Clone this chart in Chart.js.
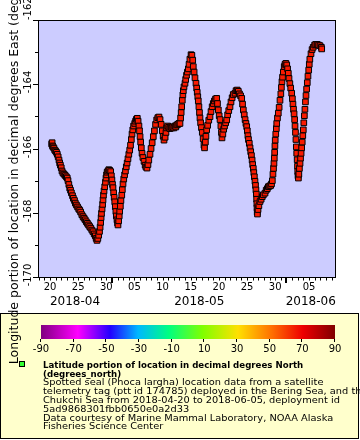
<!DOCTYPE html>
<html>
<head>
<meta charset="utf-8">
<script src="https://cdn.jsdelivr.net/npm/chart.js@4.4.1/dist/chart.umd.min.js"></script>
<style>
  html, body { margin: 0; padding: 0; background: #fff; }
  #wrap { width: 360px; height: 440px; }
</style>
</head>
<body>
<div id="wrap"><canvas id="chart" width="360" height="440"></canvas></div>
<script>
// time is in days counted from 2018-03-31 00:00, so 20 = 2018-04-20, 31 = 2018-05-01, 62 = 2018-06-01
const fixDay = [
  20.30, 20.38, 20.45, 20.55, 20.70, 20.85, 21.00, 21.15, 21.30, 21.45,
  21.60, 21.72, 21.85, 22.00, 22.13, 22.30, 22.50, 22.70, 22.90, 23.07,
  23.20, 23.35, 23.50, 23.65, 23.80, 24.00, 24.15, 24.35, 24.50, 24.70,
  24.90, 25.10, 25.28, 25.45, 25.65, 25.86, 26.05, 26.25, 26.45, 26.65,
  26.85, 27.05, 27.25, 27.45, 27.64, 27.85, 28.05, 28.20, 28.35,
  28.50, 28.65, 28.80, 28.90, 29.00, 29.08, 29.15, 29.25, 29.35, 29.42,
  29.50, 29.60, 29.72, 29.85, 29.95, 30.05, 30.15, 30.30, 30.45, 30.60,
  30.78, 30.90, 31.00, 31.10, 31.19, 31.30, 31.40, 31.50, 31.60, 31.70,
  31.78, 31.90, 32.00, 32.08, 32.20, 32.30, 32.38, 32.50, 32.60, 32.75,
  32.85, 32.97, 33.10, 33.25, 33.40, 33.55, 33.70, 33.85, 34.00, 34.16,
  34.30, 34.45, 34.57, 34.70, 34.85, 35.05, 35.20, 35.35, 35.51,
  35.65, 35.80, 35.90, 36.00, 36.10, 36.22, 36.35, 36.50, 36.70, 36.90,
  37.05, 37.23, 37.40, 37.55, 37.76, 37.95, 38.15, 38.35, 38.55, 38.75,
  38.95, 39.15, 39.36, 39.55, 39.75, 39.95, 40.10, 40.25, 40.45, 40.60,
  40.73, 40.90, 41.10, 41.30, 41.50, 41.62, 41.80, 42.00, 42.20, 42.35,
  42.51, 42.70, 42.90, 43.09, 43.20, 43.30, 43.39, 43.50, 43.60, 43.68,
  43.80, 43.98, 44.10, 44.25, 44.40, 44.57, 44.70, 44.85, 45.05, 45.20,
  45.35, 45.45, 45.60, 45.75, 45.93, 46.05, 46.15, 46.25, 46.34, 46.45,
  46.55, 46.64, 46.75, 46.90, 47.05, 47.20, 47.35, 47.45, 47.60, 47.70,
  47.83, 48.00, 48.20, 48.42, 48.60, 48.80, 49.00, 49.20, 49.40, 49.61,
  49.75, 49.90, 50.05, 50.20, 50.35, 50.45, 50.55, 50.70, 50.85, 51.00,
  51.20, 51.39, 51.55, 51.75, 51.97, 52.15, 52.35, 52.55, 52.86, 53.05,
  53.25, 53.45, 53.65, 53.85, 54.05,
  54.20, 54.34, 54.50, 54.65, 54.80, 54.94, 55.05, 55.15, 55.25, 55.40,
  55.53, 55.65, 55.78, 55.90, 56.00, 56.11, 56.20, 56.30, 56.41, 56.50,
  56.58, 56.65, 56.70, 56.74, 56.77, 56.80, 56.85, 56.95, 57.10, 57.30,
  57.50, 57.70, 57.90, 58.19, 58.40, 58.60, 58.78, 59.00, 59.20, 59.35,
  59.49, 59.60, 59.70, 59.78, 59.84, 59.90, 59.95, 60.00, 60.10, 60.20,
  60.27, 60.40, 60.55, 60.70, 60.85, 61.00, 61.10, 61.20, 61.30, 61.44,
  61.60, 61.74, 61.90,
  62.05, 62.20, 62.33, 62.45, 62.60, 62.75, 62.93, 63.05, 63.15, 63.25,
  63.35, 63.45, 63.52, 63.60, 63.68, 63.75, 63.82, 63.90, 63.96, 64.00,
  64.05, 64.12, 64.20, 64.30, 64.41, 64.50, 64.60, 64.70, 64.80, 64.90,
  64.99, 65.08, 65.18, 65.28, 65.37, 65.47, 65.58, 65.70, 65.82, 65.95,
  66.05, 66.15, 66.36, 66.55, 66.75, 67.00, 67.20, 67.45, 67.70, 67.96,
  68.20, 68.26
];
const fixLon = [
  -165.86, -165.82, -165.92, -165.95, -165.99, -166.05, -166.08, -166.12, -166.18, -166.26,
  -166.36, -166.45, -166.52, -166.60, -166.70, -166.76, -166.80, -166.84, -166.88, -166.92,
  -167.00, -167.12, -167.23, -167.30, -167.38, -167.47, -167.55, -167.62, -167.70, -167.76,
  -167.82, -167.88, -167.92, -167.98, -168.06, -168.12, -168.17, -168.22, -168.28, -168.33,
  -168.38, -168.43, -168.48, -168.54, -168.59, -168.66, -168.72, -168.80, -168.86,
  -168.80, -168.70, -168.58, -168.45, -168.30, -168.15, -168.02, -167.88, -167.74, -167.60,
  -167.45, -167.32, -167.19, -167.05, -166.92, -166.82, -166.74, -166.70, -166.66, -166.68,
  -166.72, -166.85, -166.98, -167.12, -167.22, -167.38, -167.52, -167.66, -167.81, -167.96,
  -168.10, -168.22, -168.32, -168.38, -168.25, -168.10, -167.95, -167.80, -167.62, -167.45,
  -167.28, -167.10, -166.95, -166.82, -166.70, -166.57, -166.45, -166.32, -166.18, -166.05,
  -165.90, -165.72, -165.55, -165.42, -165.30, -165.22, -165.15, -165.09, -165.06,
  -165.15, -165.30, -165.45, -165.63, -165.80, -165.98, -166.15, -166.28, -166.40, -166.52,
  -166.58, -166.61, -166.50, -166.36, -166.18, -166.00, -165.82, -165.63, -165.45, -165.25,
  -165.11, -165.04, -165.02, -165.10, -165.25, -165.45, -165.62, -165.74, -165.65, -165.50,
  -165.36, -165.30, -165.34, -165.38, -165.33, -165.36, -165.33, -165.36, -165.30, -165.33,
  -165.27, -165.25, -165.22, -165.22, -165.05, -164.88, -164.70, -164.50, -164.33, -164.20,
  -164.08, -163.97, -163.85, -163.72, -163.62, -163.52, -163.38, -163.22, -163.08, -163.10,
  -163.25, -163.45, -163.62, -163.80, -163.97, -164.12, -164.25, -164.39, -164.52, -164.70,
  -164.88, -165.05, -165.20, -165.35, -165.50, -165.70, -165.90, -165.98, -165.80, -165.62,
  -165.42, -165.28, -165.12, -165.01, -164.85, -164.70, -164.60, -164.52, -164.46, -164.44,
  -164.60, -164.80, -164.98, -165.10, -165.30, -165.50, -165.67, -165.55, -165.40, -165.30,
  -165.20, -165.11, -164.95, -164.82, -164.70, -164.55, -164.42, -164.32, -164.28, -164.20,
  -164.18, -164.22, -164.30, -164.36, -164.44,
  -164.62, -164.80, -164.95, -165.10, -165.22, -165.32, -165.45, -165.60, -165.72, -165.84,
  -165.98, -166.10, -166.22, -166.36, -166.50, -166.62, -166.75, -166.88, -167.02, -167.15,
  -167.29, -167.42, -167.58, -167.72, -167.85, -167.98, -168.04, -167.90, -167.78, -167.65,
  -167.58, -167.50, -167.44, -167.39, -167.30, -167.25, -167.19, -167.17, -167.15, -167.10,
  -167.00, -166.80, -166.62, -166.46, -166.30, -166.12, -165.92, -165.74, -165.55, -165.38,
  -165.22, -165.05, -164.90, -164.72, -164.50, -164.30, -164.10, -163.92, -163.78, -163.62,
  -163.45, -163.38, -163.35,
  -163.40, -163.52, -163.66, -163.82, -163.98, -164.12, -164.28, -164.45, -164.62, -164.78,
  -164.92, -165.10, -165.30, -165.50, -165.72, -165.95, -166.15, -166.35, -166.55, -166.72,
  -166.85, -166.92, -166.80, -166.62, -166.46, -166.30, -166.15, -165.98, -165.80, -165.60,
  -165.42, -165.20, -164.98, -164.78, -164.55, -164.35, -164.15, -163.95, -163.75, -163.56,
  -163.38, -163.22, -163.05, -162.92, -162.85, -162.78, -162.76, -162.76, -162.78, -162.80,
  -162.85, -162.90
];

const dayRange = [17.87, 70.62];
const lonRange = [-170, -162];
const monthStarts = [31, 62];
const monthNames = ['2018-04', '2018-05', '2018-06'];
const cbarTicks = [-90, -70, -50, -30, -10, 10, 30, 50, 70, 90];
const cbarColors = ['#800080', '#ff00ff', '#2200ff', '#00b8ff', '#00ff80', '#80ff00', '#ffe000', '#ff7000', '#ee0000', '#800000'];
const cbarStops = [0, 0.125, 0.235, 0.33, 0.435, 0.55, 0.67, 0.785, 0.89, 1];
const yTitle = 'Longitude portion of location in decimal degrees East (degrees_east)';
const legendBold = ['Latitude portion of location in decimal degrees North', '(degrees_north)'];
const legendLines = [
  'Spotted seal (Phoca largha) location data from a satellite',
  'telemetry tag (ptt id 174785) deployed in the Bering Sea, and the',
  'Chukchi Sea from 2018-04-20 to 2018-06-05, deployment id',
  '5ad9868301fbb0650e0a2d33',
  'Data courtesy of Marine Mammal Laboratory, NOAA Alaska',
  'Fisheries Science Center'
];

const FONT = '"DejaVu Sans"';
Chart.defaults.font.family = FONT;
Chart.defaults.color = '#000';

function dayOfMonth(d) {
  if (d >= monthStarts[1]) return d - monthStarts[1] + 1;
  if (d >= monthStarts[0]) return d - monthStarts[0] + 1;
  return d;
}

function intTicks(scale) {
  const out = [];
  for (let v = Math.ceil(scale.min); v <= Math.floor(scale.max); v++) out.push({ value: v });
  scale.ticks = out;
}

// the legend font is wide for its height, so stretch it a little
function wideText(ctx, text, x, y, sx) {
  ctx.save();
  ctx.translate(x, y);
  ctx.scale(sx, 1);
  ctx.fillText(text, 0, 0);
  ctx.restore();
}

const erddapFrame = {
  id: 'erddapFrame',
  beforeDraw(chart) {
    const ctx = chart.ctx, ca = chart.chartArea;
    ctx.save();
    ctx.fillStyle = '#fff';
    ctx.fillRect(0, 0, chart.width, chart.height);
    ctx.fillStyle = '#ccccff';
    ctx.fillRect(ca.left, ca.top, ca.right - ca.left, ca.bottom - ca.top);
    // legend box
    ctx.fillStyle = '#ffffcc';
    ctx.fillRect(0, 313, 359, 126);
    ctx.strokeStyle = '#000';
    ctx.lineWidth = 1;
    ctx.strokeRect(0.5, 313.5, 358, 125);
    ctx.restore();
  },
  afterDraw(chart) {
    const ctx = chart.ctx, ca = chart.chartArea;
    const xs = chart.scales.x, ys = chart.scales.y;
    ctx.save();
    ctx.strokeStyle = '#000';
    ctx.fillStyle = '#000';
    ctx.lineWidth = 1;
    ctx.strokeRect(ca.left + 0.5, ca.top + 0.5, ca.right - ca.left, ca.bottom - ca.top);

    // x tick marks
    xs.ticks.forEach(t => {
      const px = Math.round(xs.getPixelForValue(t.value));
      const major = monthStarts.includes(t.value);
      ctx.lineWidth = major ? 2 : 1;
      ctx.beginPath();
      ctx.moveTo(major ? px : px + 0.5, ca.bottom + 1);
      ctx.lineTo(major ? px : px + 0.5, ca.bottom + (major ? 6 : 3.5));
      ctx.stroke();
    });
    ctx.lineWidth = 1;

    // y tick marks and rotated labels
    ctx.font = '10px ' + FONT;
    ys.ticks.forEach(t => {
      const py = Math.round(ys.getPixelForValue(t.value));
      const even = t.value % 2 === 0;
      ctx.beginPath();
      ctx.moveTo(ca.left, py + 0.5);
      ctx.lineTo(ca.left - (even ? 5 : 3), py + 0.5);
      ctx.stroke();
      if (!even) return;
      ctx.save();
      ctx.translate(31, t.value === lonRange[1] ? py : py - 2);
      ctx.rotate(-Math.PI / 2);
      ctx.textAlign = t.value === lonRange[1] ? 'left' : 'center';
      ctx.textBaseline = 'alphabetic';
      ctx.fillText(String(t.value), 0, 0);
      ctx.restore();
    });

    // month labels, centred on the visible part of each month
    ctx.font = '12px ' + FONT;
    ctx.textAlign = 'center';
    ctx.textBaseline = 'alphabetic';
    const edges = [xs.min].concat(monthStarts, [xs.max]);
    monthNames.forEach((m, i) => {
      const mid = (xs.getPixelForValue(edges[i]) + xs.getPixelForValue(edges[i + 1])) / 2;
      ctx.fillText(m, mid, 305);
    });

    // colour bar
    const cx0 = 41, cx1 = 335, cy0 = 325, cy1 = 339;
    const grad = ctx.createLinearGradient(cx0, 0, cx1, 0);
    cbarColors.forEach((c, i) => grad.addColorStop(cbarStops[i], c));
    ctx.fillStyle = grad;
    ctx.fillRect(cx0, cy0, cx1 - cx0, cy1 - cy0);
    ctx.fillStyle = '#000';
    ctx.font = '10px ' + FONT;
    cbarTicks.forEach(v => {
      const px = cx0 + (v - cbarTicks[0]) / (cbarTicks[cbarTicks.length - 1] - cbarTicks[0]) * (cx1 - cx0);
      const rx = Math.round(px) - 0.5;
      ctx.beginPath();
      ctx.moveTo(rx, cy1);
      ctx.lineTo(rx, cy1 + 3);
      ctx.stroke();
      ctx.fillText(String(v), px, 352);
    });

    // legend marker and text
    ctx.fillStyle = '#33ff33';
    ctx.fillRect(19.5, 361.5, 5, 5);
    ctx.strokeRect(19.5, 361.5, 5, 5);
    ctx.fillStyle = '#000';
    ctx.textAlign = 'left';
    ctx.font = 'bold 9px ' + FONT;
    wideText(ctx, legendBold[0], 43, 368, 0.96);
    wideText(ctx, legendBold[1], 43, 376.6, 0.96);
    ctx.font = '9px ' + FONT;
    legendLines.forEach((l, i) => wideText(ctx, l, 43, 385.2 + i * 8.85, 1.09));

    // y axis title, drawn last so it sits over the legend box
    ctx.save();
    ctx.font = '12.5px ' + FONT;
    ctx.translate(17.5, (ca.top + ca.bottom) / 2);
    ctx.rotate(-Math.PI / 2);
    ctx.textAlign = 'center';
    ctx.fillText(yTitle, 0, 0);
    ctx.restore();

    ctx.restore();
  }
};

new Chart(document.getElementById('chart'), {
  type: 'scatter',
  data: {
    datasets: [{
      label: 'Latitude portion of location in decimal degrees North',
      data: fixDay.map((d, i) => ({ x: d, y: fixLon[i] })),
      pointStyle: 'rect',
      pointRadius: 4,
      pointHoverRadius: 4,
      pointBackgroundColor: '#f81a00',
      pointBorderColor: '#000',
      pointBorderWidth: 1
    }]
  },
  options: {
    responsive: false,
    animation: false,
    devicePixelRatio: 1,
    layout: { padding: { top: 20, right: 25, left: 0, bottom: 0 } },
    plugins: { legend: { display: false }, tooltip: { enabled: false } },
    scales: {
      x: {
        type: 'linear',
        min: dayRange[0],
        max: dayRange[1],
        afterBuildTicks: intTicks,
        afterFit: s => { s.height = 163; },
        grid: { display: false, drawTicks: false },
        border: { display: false },
        ticks: {
          autoSkip: false,
          maxRotation: 0,
          padding: 4,
          font: { size: 10 },
          callback: v => {
            const dm = dayOfMonth(v);
            return dm % 5 === 0 ? String(dm).padStart(2, '0') : '';
          }
        }
      },
      y: {
        min: lonRange[0],
        max: lonRange[1],
        afterBuildTicks: intTicks,
        afterFit: s => { s.width = 38; },
        grid: { display: false, drawTicks: false },
        border: { display: false },
        ticks: { display: false }
      }
    }
  },
  plugins: [erddapFrame]
});
</script>
</body>
</html>
